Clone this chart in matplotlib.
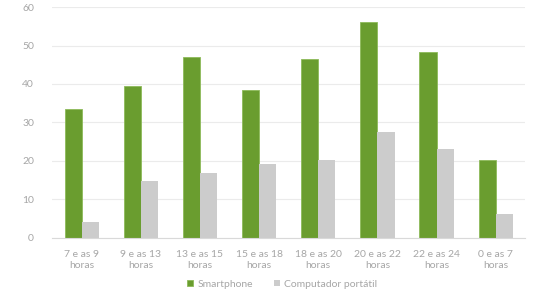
import numpy as np
import matplotlib.pyplot as plt

# horários e percentagens
categorias = ["7 e as 9\nhoras", "9 e as 13\nhoras", "13 e as 15\nhoras", "15 e as 18\nhoras",
              "18 e as 20\nhoras", "20 e as 22\nhoras", "22 e as 24\nhoras", "0 e as 7\nhoras"]
smartphone = [33.5, 39.5, 47.0, 38.4, 46.5, 56.0, 48.2, 20.3]
computador = [4.2, 14.7, 16.9, 19.1, 20.3, 27.4, 23.1, 6.2]

plt.rcParams['font.family'] = ['Lato', 'DejaVu Sans']

fig = plt.figure(figsize=(5.6, 2.93), dpi=100)
ax = fig.add_axes([0.093, 0.188, 0.845, 0.788])

x = np.arange(len(categorias))
w = 0.29
ax.bar(x - w / 2, smartphone, w, color="#6A9D2F", edgecolor="#8DBA5A", linewidth=0.6, label="Smartphone")
ax.bar(x + w / 2, computador, w, color="#CCCCCC", label="Computador portátil")

ax.set_xlim(-0.5, len(categorias) - 0.5)
ax.set_ylim(0, 60)
ax.set_yticks(range(0, 61, 10))
ax.set_xticks(x)
ax.set_xticklabels(categorias, linespacing=1.25)
ax.tick_params(axis="both", length=0, labelsize=7.5, labelcolor="#A6A6A6")
ax.tick_params(axis="x", pad=9)
ax.tick_params(axis="y", pad=13)
ax.grid(axis="y", color="#EBEBEB", linewidth=0.8)
ax.set_axisbelow(True)
for s in ["left", "right", "top"]:
    ax.spines[s].set_visible(False)
ax.spines["bottom"].set_color("#D9D9D9")

fig.legend(loc="center", bbox_to_anchor=(0.504, 0.03), ncol=2, frameon=False,
           fontsize=7.5, labelcolor="#A6A6A6", handlelength=0.6, handleheight=0.6,
           columnspacing=2.0, handletextpad=0.4)

fig.savefig("out.png", dpi=100)
